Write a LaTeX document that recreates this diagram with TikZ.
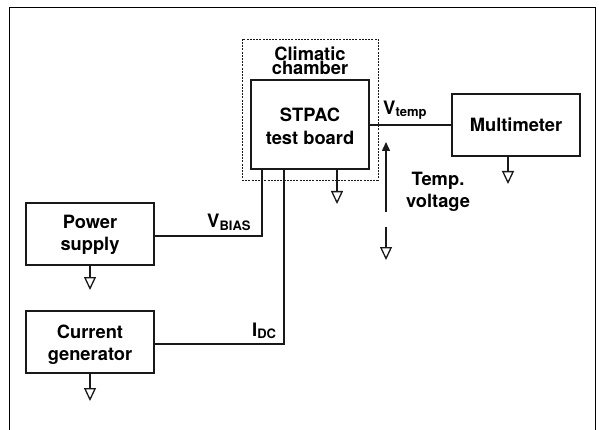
\documentclass[tikz,border=0pt]{standalone}
\usepackage{fontspec}
\setmainfont{TeX Gyre Heros}
\usetikzlibrary{arrows.meta,calc}
\tikzset{
  x=1pt,y=-1pt,
  txt/.style={font=\fontsize{18.3}{22.5}\selectfont\bfseries,align=center,inner sep=0pt},
  lbl/.style={font=\fontsize{18.5}{20}\selectfont\bfseries,inner sep=0pt,anchor=base west},
  box/.style={draw=black!90,line width=1.6pt,minimum width=#1,minimum height=62pt,inner sep=0pt},
  wire/.style={draw=black!90,line width=1.4pt},
  gnd/.style={wire,-{Triangle[open,length=13pt,width=12pt,line width=1.3pt]}},
  volt/.style={wire,-{Triangle[length=9pt,width=8pt]}}
}
\newcommand{\subs}[1]{\raisebox{-2.5pt}{\fontsize{13}{14}\selectfont\bfseries #1}}
\begin{document}
\begin{tikzpicture}
\useasboundingbox (0,0) rectangle (599,430);
\fill[white] (0,0) rectangle (599,430);
\draw[black,line width=1pt] (9.5,440) -- (9.5,7.5) -- (595.5,7.5) -- (595.5,440);
\node[draw=black!90,line width=0.9pt,dash pattern=on 2pt off 1.2pt,minimum width=136pt,minimum height=141pt,inner sep=0pt] (chamber) at (310,109.5) {};
\node[txt,font=\fontsize{18.3}{14.5}\selectfont\bfseries] (chlabel) at (310,61) {Climatic\\chamber};
\node[box=118pt,minimum height=89pt] (board) at (310,124.5) {};
\node[txt] (boardtxt) at (310,126.5) {STPAC\\test board};
\node[box=128pt] (meter) at (516,125) {};
\node[txt] (metertxt) at (516,125) {Multimeter};
\node[box=128pt] (power) at (90,234) {};
\node[txt] (powertxt) at (90,235) {Power\\supply};
\node[box=128pt] (current) at (90,342) {};
\node[txt] (currenttxt) at (90,344.5) {Current\\generator};
% wires
\coordinate (bt1) at (262,169);
\coordinate (bt2) at (284,169);
\coordinate (pw) at (154,236);
\coordinate (cu) at (154,344);
\draw[wire] (board.east |- meter.west) -- (meter.west);
\draw[wire] (pw) -| (bt1);
\draw[wire] (cu) -| (bt2);
% grounds
\coordinate (g1) at (337,204);
\coordinate (g2) at (508,184);
\coordinate (g3) at (90,290);
\coordinate (g4) at (90,401);
\coordinate (g5a) at (386,227);
\coordinate (g5) at (386,260);
\coordinate (arA) at (386,212);
\coordinate (arB) at (386,142);
\draw[gnd] (g1 |- board.south) -- (g1);
\draw[gnd] (meter.south -| g2) -- (g2);
\draw[gnd] (power.south) -- (g3);
\draw[gnd] (current.south) -- (g4);
\draw[gnd] (g5a) -- (g5);
\draw[volt] (arA) -- (arB);
% labels
\node[lbl] (vtemp) at (383,114.5) {V\subs{temp}};
\node[lbl] (vbias) at (207,227.5) {V\subs{BIAS}};
\node[lbl] (idc) at (252,336) {I\subs{DC}};
\node[txt] (tv) at (438,192) {Temp.\\voltage};
\end{tikzpicture}
\end{document}
